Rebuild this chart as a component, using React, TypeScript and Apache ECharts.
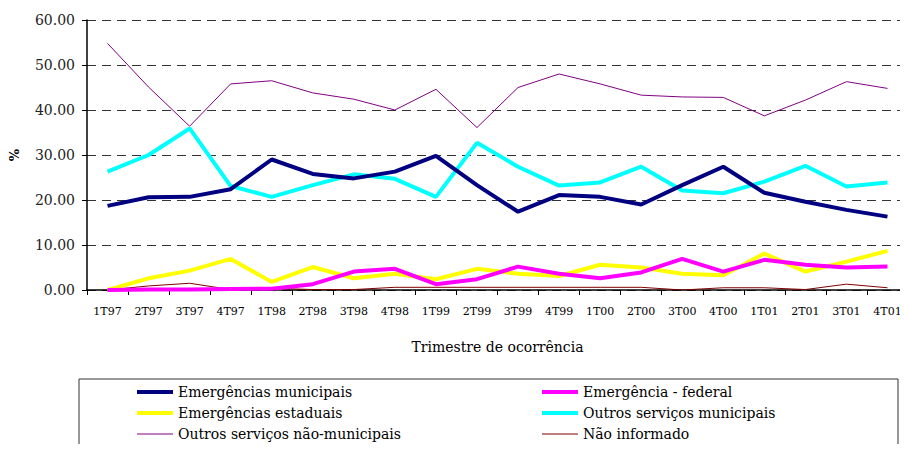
import React, { useEffect, useRef } from "react";
import * as echarts from "echarts";

const categories = ["1T97","2T97","3T97","4T97","1T98","2T98","3T98","4T98","1T99","2T99","3T99","4T99","1T00","2T00","3T00","4T00","1T01","2T01","3T01","4T01"];
const yTicks = [0, 10, 20, 30, 40, 50, 60];

const emergMunicipais = [18.7,20.6,20.7,22.4,29.0,25.8,24.8,26.3,29.8,23.3,17.4,21.1,20.7,19.0,23.3,27.4,21.6,19.6,17.8,16.3];
const emergFederal = [0.0,0.1,0.1,0.2,0.3,1.3,4.1,4.7,1.3,2.4,5.2,3.6,2.6,3.9,6.9,4.1,6.7,5.6,5.0,5.2];
const emergEstaduais = [0.0,2.6,4.3,6.9,1.8,5.1,2.6,3.6,2.4,4.7,3.6,3.1,5.6,5.0,3.6,3.3,8.1,4.1,6.3,8.7];
const outrosMunicipais = [26.3,30.0,35.9,23.1,20.7,23.3,25.7,24.7,20.7,32.7,27.4,23.2,23.9,27.4,22.1,21.5,24.1,27.6,23.0,23.9];
const outrosNaoMunicipais = [54.8,45.1,36.4,45.8,46.5,43.8,42.4,40.0,44.6,36.1,45.0,48.0,45.8,43.3,42.9,42.8,38.7,42.2,46.3,44.8];
const naoInformado = [0.0,0.9,1.5,0.1,0.4,0.1,0.1,0.6,0.6,0.6,0.6,0.6,0.6,0.6,0.0,0.5,0.5,0.1,1.3,0.5];

const seriesNames = [
  "Emergências municipais",
  "Emergência - federal",
  "Emergências estaduais",
  "Outros serviços municipais",
  "Outros serviços não-municipais",
  "Não informado",
];
const seriesData = [emergMunicipais, emergFederal, emergEstaduais, outrosMunicipais, outrosNaoMunicipais, naoInformado];
const seriesColors = ["#000080", "#FF00FF", "#FFFF00", "#00FFFF", "#800080", "#800000"];
const seriesWidths = [4, 4, 4, 4, 1, 1];

const FONT = "DejaVu Serif";

export default function App() {
  const ref = useRef<HTMLDivElement>(null);
  useEffect(() => {
    if (!ref.current) return;
    const chart = echarts.init(ref.current, null, { renderer: "svg" });
    const legendText = { fontFamily: FONT, fontSize: 14, color: "#000", width: 354, lineHeight: 11 };
    const legendBase = {
      orient: "vertical",
      top: 385,
      height: 66,
      padding: 0,
      itemWidth: 36,
      itemHeight: 11,
      itemGap: 7,
      textStyle: legendText,
      selectedMode: false,
      itemStyle: { opacity: 0, borderWidth: 0 },
    };
    const legendItem = (i: number) => ({
      name: seriesNames[i],
      lineStyle: { width: seriesWidths[i], color: seriesColors[i] },
    });
    chart.setOption({
      animation: false,
      backgroundColor: "#fff",
      textStyle: { fontFamily: FONT },
      grid: { left: 85, top: 20, width: 829, height: 270, containLabel: false },
      xAxis: {
        type: "category",
        data: categories,
        boundaryGap: true,
        name: "Trimestre de ocorrência",
        nameLocation: "middle",
        nameGap: 50,
        nameTextStyle: { fontFamily: FONT, fontSize: 14, color: "#000" },
        axisLine: { lineStyle: { color: "#000", width: 1.5 } },
        axisTick: { show: true, alignWithLabel: false, length: 5, lineStyle: { color: "#000" } },
        axisLabel: { fontFamily: FONT, fontSize: 11, color: "#000", margin: 16, interval: 0 },
        splitLine: { show: false },
      },
      yAxis: {
        type: "value",
        min: 0,
        max: 60,
        interval: 10,
        name: "%",
        nameLocation: "middle",
        nameGap: 66,
        nameRotate: 90,
        nameTextStyle: { fontFamily: FONT, fontSize: 13, fontWeight: "bold", color: "#000" },
        axisLine: { show: true, lineStyle: { color: "#000", width: 1.5 } },
        axisTick: { show: true, length: 5, lineStyle: { color: "#000" } },
        axisLabel: {
          fontFamily: FONT,
          fontSize: 14,
          color: "#222",
          margin: 12,
          formatter: (v: number) => (yTicks.includes(v) ? v.toFixed(2) : ""),
        },
        splitLine: { show: true, lineStyle: { color: "#333", type: [9, 6], width: 1 } },
      },
      legend: [
        { ...legendBase, left: 135, data: [legendItem(0), legendItem(2), legendItem(4)] },
        { ...legendBase, left: 540, data: [legendItem(1), legendItem(3), legendItem(5)] },
      ],
      graphic: [
        {
          type: "rect",
          shape: { x: 79, y: 379, width: 819, height: 90 },
          style: { fill: "none", stroke: "#333", lineWidth: 1 },
          z: -1,
        },
      ],
      series: seriesNames.map((name, i) => ({
        name,
        type: "line",
        data: seriesData[i],
        symbol: "none",
        showSymbol: false,
        lineStyle: { color: seriesColors[i], width: seriesWidths[i] },
        itemStyle: { color: seriesColors[i] },
        z: 10 - i,
      })),
    });
    return () => chart.dispose();
  }, []);
  return <div ref={ref} style={{ width: 908, height: 452, margin: -8 }} />;
}
